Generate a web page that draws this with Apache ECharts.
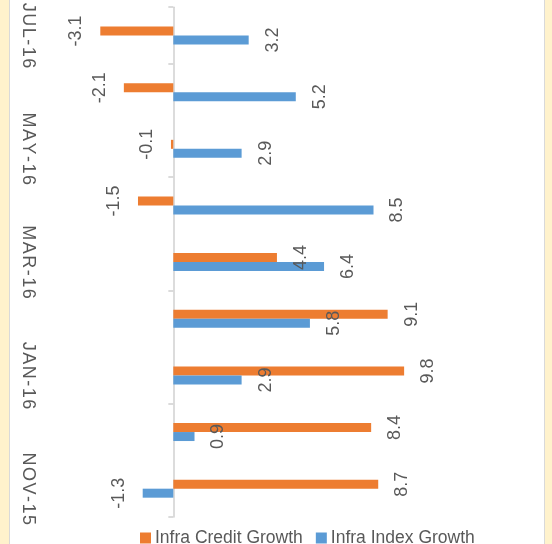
<!DOCTYPE html>
<html>
<head>
<meta charset="utf-8">
<script src="https://cdn.jsdelivr.net/npm/echarts@6/dist/echarts.min.js"></script>
<style>
  html, body { margin: 0; padding: 0; background: #fff; }
  #chart { width: 552px; height: 544px; }
</style>
</head>
<body>
<div id="chart"></div>
<script>
// months, bottom to top
var months = ['NOV-15', 'DEC-15', 'JAN-16', 'FEB-16', 'MAR-16', 'APR-16', 'MAY-16', 'JUN-16', 'JUL-16'];
var creditGrowth = [8.7, 8.4, 9.8, 9.1, 4.4, -1.5, -0.1, -2.1, -3.1]; // Infra Credit Growth
var indexGrowth = [-1.3, 0.9, 2.9, 5.8, 6.4, 8.5, 2.9, 5.2, 3.2];     // Infra Index Growth

var labelGrey = '#595959';
var fontName = 'Liberation Sans';

// negative bars get their label on the left side
function withLabels(arr) {
  return arr.map(function (v) {
    if (v < 0) {
      return { value: v, label: { position: 'left', verticalAlign: 'bottom' } };
    }
    return v;
  });
}

var valueLabel = {
  show: true,
  position: 'right',
  rotate: 90,
  align: 'center',
  verticalAlign: 'top',
  distance: 15,
  color: labelGrey,
  fontSize: 18,
  fontFamily: fontName
};

var chart = echarts.init(document.getElementById('chart'));
chart.setOption({
  animation: false,
  graphic: [
    { type: 'rect', shape: { x: 0, y: 0, width: 9, height: 544 }, style: { fill: '#FFF2CC' }, silent: true },
    { type: 'rect', shape: { x: 545, y: 0, width: 7, height: 544 }, style: { fill: '#FFF2CC' }, silent: true },
    { type: 'line', shape: { x1: 9.5, y1: 0, x2: 9.5, y2: 544 }, style: { stroke: '#D9D9D9', lineWidth: 1 }, silent: true },
    { type: 'line', shape: { x1: 544.5, y1: 0, x2: 544.5, y2: 544 }, style: { stroke: '#D9D9D9', lineWidth: 1 }, silent: true }
  ],
  grid: { left: 32, right: 25.4, top: 3, bottom: 27 },
  legend: {
    left: 135,
    top: 524,
    itemWidth: 11,
    itemHeight: 11,
    itemGap: 13,
    icon: 'rect',
    textStyle: { color: labelGrey, fontSize: 17.5, fontFamily: fontName, padding: [0, 0, 0, -1] },
    data: ['Infra Credit Growth', 'Infra Index Growth']
  },
  xAxis: {
    type: 'value',
    min: -6,
    max: 15,
    show: false
  },
  yAxis: [
    {
      type: 'category',
      data: months,
      axisLine: { show: true, onZero: true, lineStyle: { color: '#D0D0D0', width: 1.5 } },
      axisTick: { show: true, interval: 1, length: 5, lineStyle: { color: '#D0D0D0', width: 1.5 } },
      axisLabel: { show: false },
      splitLine: { show: false }
    },
    {
      type: 'category',
      data: months,
      position: 'left',
      axisLine: { show: false, onZero: false },
      axisTick: { show: false },
      splitLine: { show: false },
      axisLabel: {
        interval: 1,
        rotate: -90,
        margin: -5,
        color: labelGrey,
        fontSize: 18,
        fontFamily: fontName,
        formatter: function (v) { return v.split('').join('\u200A'); }
      }
    }
  ],
  series: [
    {
      name: 'Infra Credit Growth',
      type: 'bar',
      yAxisIndex: 0,
      barWidth: 9,
      barGap: '0%',
      itemStyle: { color: '#ED7D31' },
      label: valueLabel,
      data: withLabels(creditGrowth)
    },
    {
      name: 'Infra Index Growth',
      type: 'bar',
      yAxisIndex: 0,
      barWidth: 9,
      barGap: '0%',
      itemStyle: { color: '#5B9BD5' },
      label: valueLabel,
      data: withLabels(indexGrowth)
    }
  ]
});
</script>
</body>
</html>
